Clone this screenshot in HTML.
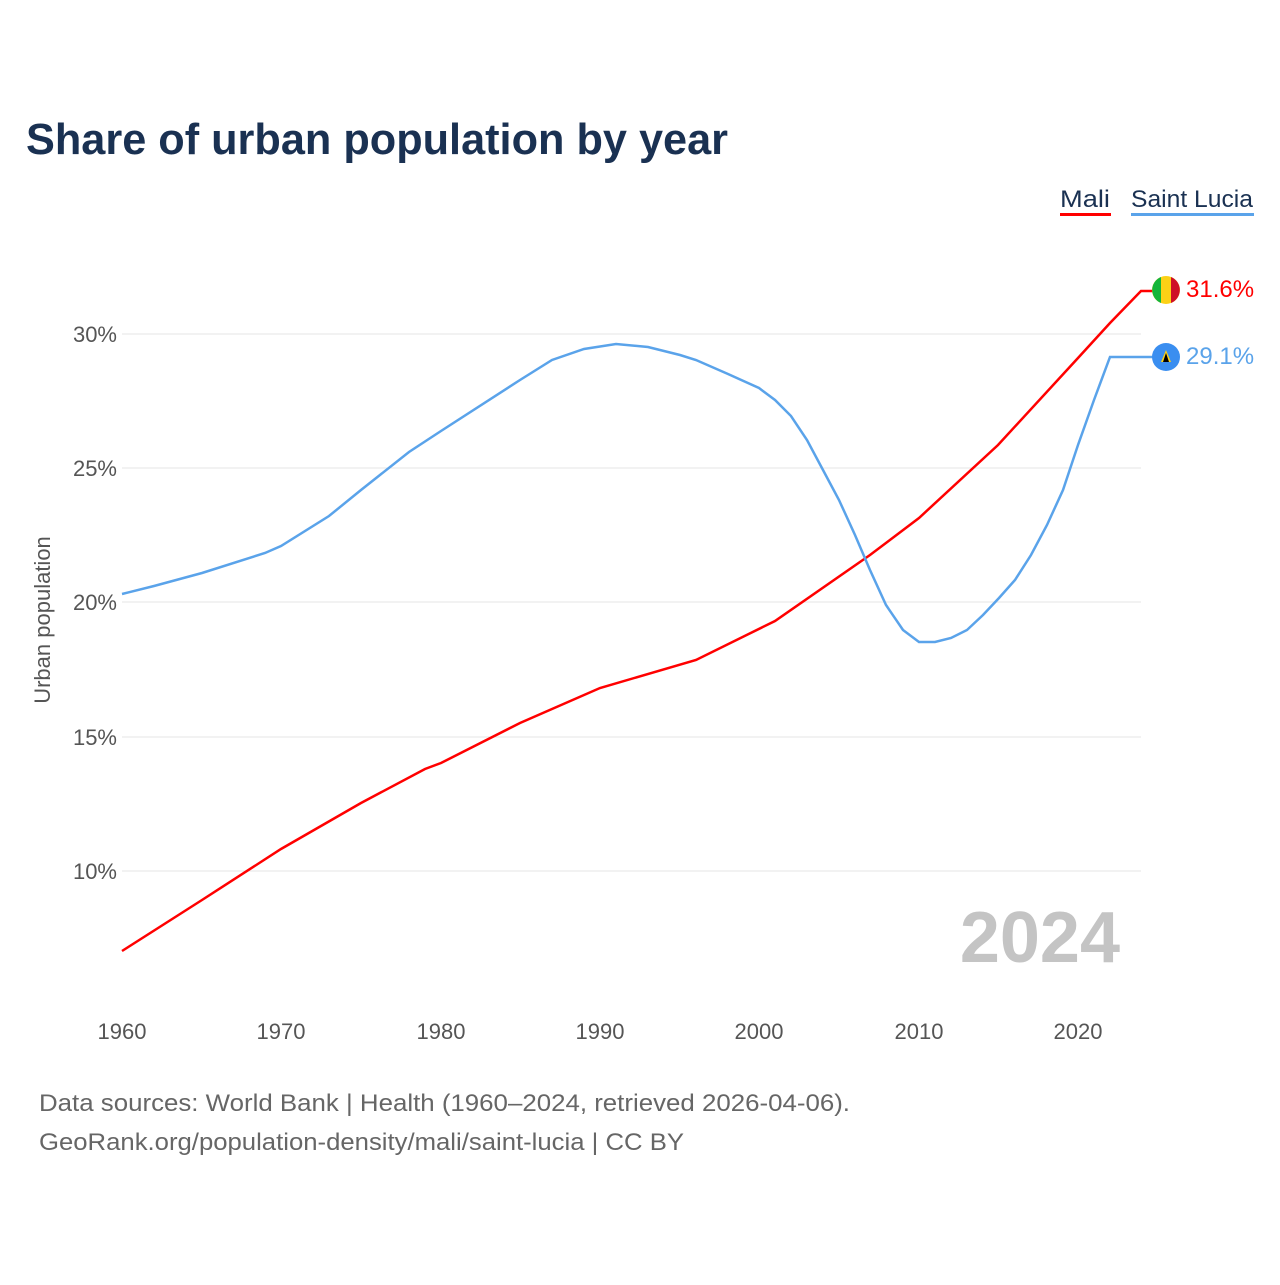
<!DOCTYPE html>
<html><head><meta charset="utf-8"><style>
body{margin:0;background:#fff;width:1280px;height:1280px;overflow:hidden;font-family:"Liberation Sans",sans-serif}
</style></head><body>
<svg width="1280" height="1280" xmlns="http://www.w3.org/2000/svg" font-family="Liberation Sans, sans-serif">
<text x="26" y="154" font-size="44" font-weight="bold" fill="#1a3152" textLength="702" lengthAdjust="spacingAndGlyphs">Share of urban population by year</text>
<text x="1060" y="207" font-size="24" fill="#1a3152" textLength="50" lengthAdjust="spacingAndGlyphs">Mali</text>
<rect x="1060" y="213" width="51" height="3" fill="#f00"/>
<text x="1131" y="207" font-size="24" fill="#1a3152" textLength="122" lengthAdjust="spacingAndGlyphs">Saint Lucia</text>
<rect x="1131" y="213" width="123" height="3" fill="#5aa3ea"/>
<g stroke="#e6e6e6" stroke-width="1">
<line x1="122" x2="1141" y1="334" y2="334"/><line x1="122" x2="1141" y1="468" y2="468"/>
<line x1="122" x2="1141" y1="602" y2="602"/><line x1="122" x2="1141" y1="737" y2="737"/>
<line x1="122" x2="1141" y1="871" y2="871"/></g>
<g font-size="22" fill="#555" text-anchor="end">
<text x="117" y="342">30%</text><text x="117" y="476">25%</text><text x="117" y="610">20%</text><text x="117" y="745">15%</text><text x="117" y="879">10%</text></g>
<g font-size="22" fill="#555" text-anchor="middle">
<text x="122" y="1039">1960</text><text x="281" y="1039">1970</text><text x="441" y="1039">1980</text><text x="600" y="1039">1990</text><text x="759" y="1039">2000</text><text x="919" y="1039">2010</text><text x="1078" y="1039">2020</text></g>
<text transform="translate(50,620) rotate(-90)" font-size="22" fill="#555" text-anchor="middle">Urban population</text>
<text x="1120" y="962" font-size="72" font-weight="bold" fill="#c4c4c4" text-anchor="end">2024</text>
<polyline fill="none" stroke="#f00" stroke-width="2.5" points="122,951 202,900 281,849 361,803 425,769 441,763 520,723 552,709 600,688 696,660 775,621 870,555 919,518 998,445 1078,358 1110,323 1141,291 1155,291"/>
<polyline fill="none" stroke="#5aa3ea" stroke-width="2.5" points="122,594 154,586 202,573 265,553 281,546 329,516 361,490 409,452 441,431 520,380 552,360 584,349 616,344 648,347 680,355 696,360 728,374 759,388 775,400 791,416 807,440 823,470 839,500 855,535 870,570 886,605 903,630 919,642 935,642 951,638 967,630 983,615 999,598 1015,580 1031,555 1047,525 1063,490 1078,445 1094,400 1110,357 1141,357 1155,357"/>
<circle cx="1166" cy="290" r="14" fill="#fcd116"/>
<path d="M1161,277 a14,14 0 0,0 0,26 z" fill="#14b53a"/>
<path d="M1171,277 a14,14 0 0,1 0,26 z" fill="#ce1126"/>
<text x="1186" y="297" font-size="24" fill="#f00">31.6%</text>
<circle cx="1166" cy="357" r="14" fill="#3a8ef0"/>
<polygon points="1166,350 1161,362 1171,362" fill="#fcd116"/>
<polygon points="1166,353 1163,362 1169,362" fill="#000"/>
<text x="1186" y="364" font-size="24" fill="#5aa3ea">29.1%</text>
<text x="39" y="1111" font-size="24" fill="#666" textLength="811" lengthAdjust="spacingAndGlyphs">Data sources: World Bank | Health (1960–2024, retrieved 2026-04-06).</text>
<text x="39" y="1150" font-size="24" fill="#666" textLength="645" lengthAdjust="spacingAndGlyphs">GeoRank.org/population-density/mali/saint-lucia | CC BY</text>
</svg>
</body></html>
